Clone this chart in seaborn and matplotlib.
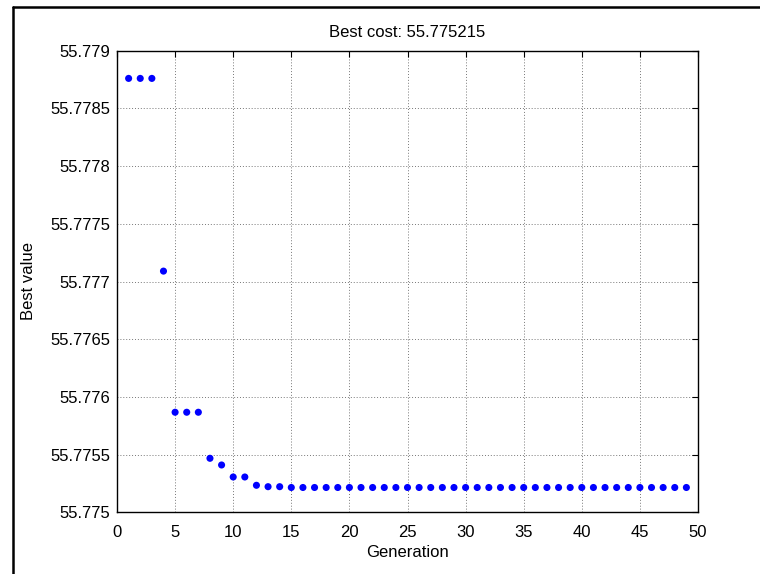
import matplotlib
matplotlib.use("Agg")
import matplotlib.pyplot as plt
from matplotlib.lines import Line2D
import seaborn as sns
import pandas as pd

# ---- data ----
generation = list(range(1, 50))
best_value = ([55.77876] * 3 + [55.77709] + [55.775867] * 3 +
              [55.775468, 55.77541, 55.775306, 55.775306, 55.775234, 55.775222, 55.775222] +
              [55.775215] * 35)
title_text = "Best cost: 55.775215"
x_ticks = [0, 5, 10, 15, 20, 25, 30, 35, 40, 45, 50]
y_ticks = [55.775, 55.7755, 55.776, 55.7765, 55.777, 55.7775, 55.778, 55.7785, 55.779]
y_tick_labels = ["55.775", "55.7755", "55.776", "55.7765", "55.777",
                 "55.7775", "55.778", "55.7785", "55.779"]

df = pd.DataFrame({"Generation": generation, "Best value": best_value})

sns.set_style("white")
plt.rcParams["font.family"] = ["Liberation Sans", "DejaVu Sans"]
plt.rcParams["text.color"] = "black"
plt.rcParams["axes.labelcolor"] = "black"

fig = plt.figure(figsize=(7.6, 5.74), dpi=100)
ax = fig.add_axes([117 / 760, 1 - 512.3 / 574, (698 - 117) / 760, (512.3 - 50.7) / 574])

sns.scatterplot(data=df, x="Generation", y="Best value", ax=ax,
                color="#0000FF", s=26, edgecolor="none", linewidth=0, zorder=3)

ax.set_xlim(0, 50)
ax.set_ylim(55.775, 55.779)
ax.set_xticks(x_ticks)
ax.set_xticklabels([str(t) for t in x_ticks])
ax.set_yticks(y_ticks)
ax.set_yticklabels(y_tick_labels)

ax.grid(True, color="#777777", linestyle=(0, (1, 2)), linewidth=0.7)
ax.set_axisbelow(True)
for sp in ax.spines.values():
    sp.set_visible(True)
    sp.set_color("black")
    sp.set_linewidth(1.0)
ax.tick_params(direction="in", length=4, width=0.8, top=True, right=True,
               labelsize=12, colors="black")
ax.tick_params(axis="x", pad=9)
ax.tick_params(axis="y", pad=5)

ax.set_title(title_text, fontsize=12, pad=10, color="black")
ax.set_xlabel("Generation", fontsize=12, labelpad=4, color="black")
ax.set_ylabel("Best value", fontsize=12, labelpad=10, color="black")

# outer frame lines (left and top)
fig.add_artist(Line2D([13 / 760, 1.0], [1 - 7 / 574, 1 - 7 / 574],
                      transform=fig.transFigure, color="black", linewidth=1.8))
fig.add_artist(Line2D([13 / 760, 13 / 760], [0.0, 1 - 7 / 574],
                      transform=fig.transFigure, color="black", linewidth=1.8))

fig.savefig("out.png", dpi=100, facecolor="white")
